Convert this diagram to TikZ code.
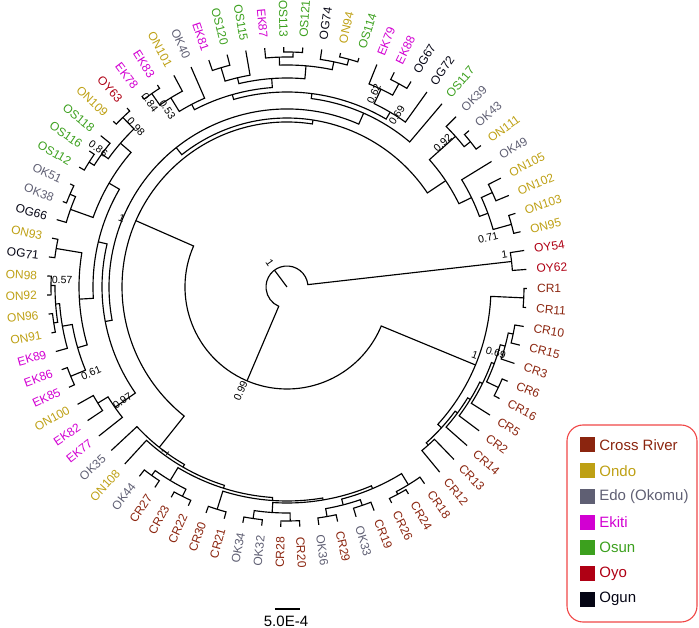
\documentclass[tikz,border=0pt]{standalone}
\usepackage{fontspec}
\setmainfont{Liberation Sans}
\usetikzlibrary{positioning}

\definecolor{cr}{RGB}{139,37,15}
\definecolor{ondo}{RGB}{190,160,20}
\definecolor{edo}{RGB}{95,95,115}
\definecolor{ekiti}{RGB}{210,0,210}
\definecolor{osun}{RGB}{60,160,30}
\definecolor{oyo}{RGB}{175,0,20}
\definecolor{ogun}{RGB}{5,5,20}
\definecolor{legred}{RGB}{240,70,70}

\tikzset{
  branch/.style={line width=1.15pt},
  leaflab/.style={font=\fontsize{12}{12}\selectfont, inner sep=0pt},
  nodelab/.style={font=\fontsize{10.5}{10.5}\selectfont, inner sep=0pt},
  legsq/.style={minimum size=15pt, inner sep=0pt},
  legtxt/.style={font=\fontsize{15}{15}\selectfont, inner sep=0pt}
}

% leaf: name, position, colour
\newcommand{\leaf}[3]{%
  \pgfmathsetmacro{\la}{4.2+(#2-1)*4.5570}%
  \expandafter\xdef\csname TA#1\endcsname{\la}%
  \expandafter\xdef\csname TR#1\endcsname{240}%
  \pgfmathtruncatemacro{\ls}{(\la>90)&&(\la<270)}%
  \ifnum\ls=1
    \pgfmathsetmacro{\lr}{\la-180}%
    \node[leaflab, text=#3, rotate=\lr, anchor=east] (#1) at (\la:250) {#1};
  \else
    \node[leaflab, text=#3, rotate=\la, anchor=west] (#1) at (\la:250) {#1};
  \fi
}
% clade: name, radius, first child, second child
\newcommand{\clade}[4]{%
  \edef\ca{\csname TA#3\endcsname}\edef\cb{\csname TA#4\endcsname}%
  \edef\ra{\csname TR#3\endcsname}\edef\rb{\csname TR#4\endcsname}%
  \pgfmathsetmacro{\cm}{(\ca+\cb)/2}%
  \expandafter\xdef\csname TA#1\endcsname{\cm}%
  \expandafter\xdef\csname TR#1\endcsname{#2}%
  \draw[branch] (\ca:\ra) -- (\ca:#2) arc[start angle=\ca, end angle=\cb, radius=#2] -- (\cb:\rb);
  \coordinate (#1) at (\cm:#2);
}
% posterior value: clade, text, angle, radius
\newcommand{\support}[4]{%
  \pgfmathtruncatemacro{\sd}{(#3>90)&&(#3<270)}%
  \ifnum\sd=1
    \pgfmathsetmacro{\sb}{#3-180}%
  \else
    \pgfmathsetmacro{\sb}{#3}%
  \fi
  \node[nodelab, rotate=\sb] (lab-#1) at (#3:#4) {#2};
}

\begin{document}
\begin{tikzpicture}[x=1pt, y=1pt]
  \useasboundingbox (-287,-341) rectangle (412,287);

  % tips
  \foreach \nm/\cl [count=\i] in {OY62/oyo, OY54/oyo, ON95/ondo, ON103/ondo, ON102/ondo,
      ON105/ondo, OK49/edo, ON111/ondo, OK43/edo, OK39/edo, OS117/osun, OG72/ogun,
      OG67/ogun, EK88/ekiti, EK79/ekiti, OS114/osun, ON94/ondo, OG74/ogun, OS121/osun,
      OS113/osun, EK87/ekiti, OS115/osun, OS120/osun, EK81/ekiti, OK40/edo, ON101/ondo,
      EK83/ekiti, EK78/ekiti, OY63/oyo, ON109/ondo, OS118/osun, OS116/osun, OS112/osun,
      OK51/edo, OK38/edo, OG66/ogun, ON93/ondo, OG71/ogun, ON98/ondo, ON92/ondo,
      ON96/ondo, ON91/ondo, EK89/ekiti, EK86/ekiti, EK85/ekiti, ON100/ondo, EK82/ekiti,
      EK77/ekiti, OK35/edo, ON108/ondo, OK44/edo, CR27/cr, CR23/cr, CR22/cr, CR30/cr,
      CR21/cr, OK34/edo, OK32/edo, CR28/cr, CR20/cr, OK36/edo, CR29/cr, OK33/edo,
      CR19/cr, CR26/cr, CR24/cr, CR18/cr, CR12/cr, CR13/cr, CR14/cr, CR2/cr, CR5/cr,
      CR16/cr, CR6/cr, CR3/cr, CR15/cr, CR10/cr, CR11/cr, CR1/cr}
    {\leaf{\nm}{\i}{\cl}}

  % Oyo pair
  \clade{OYc}{226}{OY62}{OY54}
  % upper clade, right part
  \clade{p1}{233}{ON95}{ON103}
  \clade{p2}{226}{ON102}{ON105}
  \clade{p3}{214}{p1}{p2}
  \clade{p4}{205}{p3}{OK49}
  \clade{q1}{234}{ON111}{OK43}
  \clade{q2}{226}{q1}{OK39}
  \clade{R}{191}{p4}{q2}
  \clade{e1}{232}{OG67}{EK88}
  \clade{e2}{219}{e1}{EK79}
  \clade{e3}{203}{OG72}{e2}
  \clade{f1}{236}{OS114}{ON94}
  \clade{f2}{230}{f1}{OG74}
  \clade{f3}{235}{OS121}{OS113}
  \clade{f4}{230}{f3}{EK87}
  \clade{f5}{222}{f2}{f4}
  \clade{g1}{229}{OS120}{EK81}
  \clade{g2}{215}{OS115}{g1}
  \clade{g3}{209}{f5}{g2}
  \clade{h1}{236}{EK83}{EK78}
  \clade{h2}{222}{ON101}{h1}
  \clade{h3}{206}{OK40}{h2}
  \clade{h4}{200}{g3}{h3}
  \clade{X}{195}{e3}{h4}
  \clade{V1}{190}{OS117}{X}
  % upper clade, left part
  \clade{i1}{236}{OY63}{ON109}
  \clade{i2}{234}{OS116}{OS112}
  \clade{i3}{228}{OS118}{i2}
  \clade{i4}{220}{i1}{i3}
  \clade{j1}{236}{OK51}{OK38}
  \clade{j2}{230}{j1}{OG66}
  \clade{i5}{206}{i4}{j2}
  \clade{k1}{234}{ON93}{OG71}
  \clade{k2}{236}{ON98}{ON92}
  \clade{k3}{236}{ON96}{ON91}
  \clade{k4}{232}{k2}{k3}
  \clade{k5}{228}{k4}{EK89}
  \clade{k6}{234}{EK86}{EK85}
  \clade{k7}{218}{k5}{k6}
  \clade{k8}{208}{k1}{k7}
  \clade{A}{194}{i5}{k8}
  \clade{m1}{222}{ON100}{EK82}
  \clade{m2}{210}{m1}{EK77}
  \clade{V2}{185}{A}{m2}
  \clade{V}{178}{V1}{V2}
  \clade{U}{169}{R}{V}
  % lower clade
  \clade{G1a}{232}{OK44}{CR27}
  \clade{G1b}{234}{CR23}{CR22}
  \clade{G1}{226}{G1a}{G1b}
  \clade{G2}{233}{CR30}{CR21}
  \clade{X1a}{234}{OK34}{OK32}
  \clade{X1b}{234}{CR28}{CR20}
  \clade{X1}{226}{X1a}{X1b}
  \clade{X2a}{233}{OK36}{CR29}
  \clade{X2b}{231}{OK33}{CR19}
  \clade{X2}{225}{X2a}{X2b}
  \clade{Y1}{235}{CR26}{CR24}
  \clade{Y}{232}{Y1}{CR18}
  \clade{L6}{219}{X2}{Y}
  \clade{L5}{216}{X1}{L6}
  \clade{L4}{214}{G2}{L5}
  \clade{L3}{211}{G1}{L4}
  \clade{L2}{208}{ON108}{L3}
  \clade{L}{205}{OK35}{L2}
  \clade{N1}{165}{U}{L}
  % Cross River clade
  \clade{C1}{237}{CR11}{CR1}
  \clade{Sa}{212}{CR12}{CR13}
  \clade{Sf}{234}{CR16}{CR6}
  \clade{Sg}{231}{CR15}{CR10}
  \clade{Sh}{226}{CR3}{Sg}
  \clade{Se}{221}{Sf}{Sh}
  \clade{Sd}{218}{CR5}{Se}
  \clade{Sc}{215}{CR2}{Sd}
  \clade{Sb}{212}{CR14}{Sc}
  \clade{S}{209}{Sa}{Sb}
  \clade{CRR}{204}{S}{C1}
  \clade{B}{102}{N1}{CRR}
  \clade{root}{21}{OYc}{B}
  \coordinate (centre) at (0,0);
  \draw[branch] (centre) -- (root);

  % posterior values
  \support{root}{1}{125}{30}
  \support{OYc}{1}{8.6}{220}
  \support{B}{0.99}{246}{114}
  \support{N1}{1}{157.5}{179}
  \support{L}{1}{233.5}{205}
  \support{CRR}{1}{340}{200}
  \support{Se}{0.69}{342.5}{219}
  \support{p3}{0.71}{13.7}{207}
  \support{q2}{0.92}{42.7}{212}
  \support{e2}{0.62}{65.8}{212}
  \support{e3}{0.69}{57.4}{204}
  \support{h2}{0.53}{124}{214}
  \support{h1}{0.84}{126.6}{230}
  \support{i4}{0.98}{133.3}{220}
  \support{i3}{0.86}{143.8}{234}
  \support{k2}{0.57}{178.2}{225}
  \support{k7}{0.61}{203.7}{214}
  \support{m2}{0.97}{214.6}{200}

  % scale bar
  \coordinate (sb1) at (-12,-322);
  \coordinate (sb2) at (13,-322);
  \draw[branch] (sb1) -- (sb2);
  \node[legtxt] (sbtxt) at (-1,-334) {5.0E-4};

  % legend
  \draw[legred, line width=1.1pt, rounded corners=16pt] (280,-138) rectangle (410,-335);
  \foreach \lab/\cl [count=\j] in {Cross River/cr, Ondo/ondo, Edo (Okomu)/edo,
      Ekiti/ekiti, Osun/osun, Oyo/oyo, Ogun/ogun}
    {\node[legsq, fill=\cl] (sq\j) at (300.5,{-158-(\j-1)*25.7}) {};
     \node[legtxt, text=\cl, right=4pt of sq\j] (lt\j) {\lab};}
\end{tikzpicture}
\end{document}
